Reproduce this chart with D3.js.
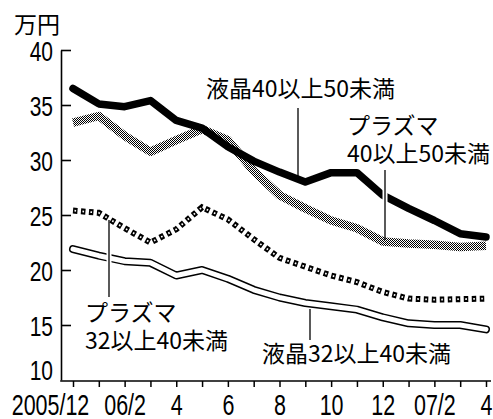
<!DOCTYPE html>
<html>
<head>
<meta charset="utf-8">
<script src="https://cdn.jsdelivr.net/npm/d3@7"></script>
<style>
  html, body { margin: 0; padding: 0; background: #fff; }
  svg { display: block; }
</style>
</head>
<body>
<svg id="chart" width="493" height="419"></svg>
<script>
// Monthly average prices (万円), 2005/12 – 2007/4
const months = ["2005/12","06/1","06/2","06/3","06/4","06/5","06/6","06/7","06/8",
                "06/9","06/10","06/11","06/12","07/1","07/2","07/3","07/4"];
const tickLabels = ["2005/12","","06/2","","4","","6","","8","","10","","12","","07/2","","4"];
const yTicks = [10, 15, 20, 25, 30, 35, 40];

const lcd40to50 = [36.5, 35.1, 34.85, 35.4, 33.6, 32.9, 31.2, 29.9, 28.9, 28.0, 28.85, 28.85, 26.8, 25.6, 24.5, 23.3, 23.0];
const pdp40to50 = [33.4, 34.0, 32.2, 30.75, 31.8, 32.8, 31.8, 29.0, 26.8, 25.6, 24.5, 23.8, 22.6, 22.4, 22.3, 22.1, 22.2];
const pdp32to40 = [25.4, 25.2, 23.8, 22.5, 23.7, 25.7, 24.6, 22.8, 21.1, 20.3, 19.5, 18.9, 18.0, 17.4, 17.3, 17.35, 17.4];
const lcd32to40 = [21.9, 21.3, 20.8, 20.65, 19.5, 20.0, 19.2, 18.2, 17.5, 17.0, 16.7, 16.4, 15.7, 15.15, 15.0, 15.0, 14.6];

const unitLabel = "万円";
const labelLcd40 = ["液晶40以上50未満"];
const labelPdp40 = ["プラズマ", "40以上50未満"];
const labelPdp32 = ["プラズマ", "32以上40未満"];
const labelLcd32 = ["液晶32以上40未満"];

const svg = d3.select("#chart");
const x = d3.scaleLinear().domain([0, months.length - 1]).range([73, 486]);
const y = d3.scaleLinear().domain([10, 40]).range([380, 50]);

const axisFont = "'Liberation Sans', Arial, sans-serif";
const cjkFont = "'Noto Sans CJK JP', 'Noto Sans CJK SC', sans-serif";

// halftone fill for the grey band
const defs = svg.append("defs");
const pat = defs.append("pattern").attr("id", "dither")
  .attr("width", 2).attr("height", 2).attr("patternUnits", "userSpaceOnUse");
pat.append("rect").attr("width", 2).attr("height", 2).attr("fill", "#fff");
pat.append("rect").attr("width", 1).attr("height", 1).attr("fill", "#000");
pat.append("rect").attr("x", 1).attr("y", 1).attr("width", 1).attr("height", 1).attr("fill", "#000");

// condensed digits: squeeze each label to 74% of its natural width
function condense(sel, k) {
  sel.each(function () {
    const w = this.getComputedTextLength();
    if (w > 0) {
      d3.select(this).attr("textLength", w * k).attr("lengthAdjust", "spacingAndGlyphs");
    }
  });
}

// y axis
const gy = svg.append("g").attr("transform", "translate(61,0)")
  .call(d3.axisLeft(y).tickValues(yTicks).tickSize(-10).tickSizeOuter(0).tickFormat(d3.format("d")));
gy.attr("font-family", null).attr("font-size", null);
gy.select(".domain").attr("stroke", "#000").attr("stroke-width", 1.6);
gy.selectAll(".tick line").attr("stroke", "#000").attr("stroke-width", 1.6)
  .filter(d => d === 10).remove();
gy.selectAll(".tick text")
  .attr("x", -8)
  .attr("dy", d => d === 10 ? "-0.02em" : "0.36em")
  .attr("text-anchor", "end")
  .style("font-family", axisFont).style("font-size", "28px").attr("fill", "#000")
  .call(condense, 0.75);

// x axis
const gx = svg.append("g").attr("transform", "translate(0,381)")
  .call(d3.axisBottom(x).tickValues(d3.range(months.length))
    .tickFormat((d, i) => tickLabels[i]).tickSize(6).tickSizeOuter(0));
gx.attr("font-family", null).attr("font-size", null);
gx.select(".domain").remove();
gx.selectAll(".tick line").attr("stroke", "#000").attr("stroke-width", 1.5);
gx.selectAll(".tick text")
  .attr("y", 34).attr("dy", null)
  .attr("x", (d, i) => i === 0 ? -23 : 0)
  .style("font-family", axisFont).style("font-size", "29px").attr("fill", "#000")
  .call(condense, 0.74);
gx.append("line").attr("x1", 60.2).attr("x2", 491).attr("y1", 0).attr("y2", 0)
  .attr("stroke", "#000").attr("stroke-width", 1.6);

const line = d3.line().x((d, i) => x(i)).y(d => y(d));

// 液晶32以上40未満: outlined white band
svg.append("path").datum(lcd32to40).attr("d", line)
  .attr("fill", "none").attr("stroke", "#000").attr("stroke-width", 8)
  .attr("stroke-linecap", "round").attr("stroke-linejoin", "round");
svg.append("path").datum(lcd32to40).attr("d", line)
  .attr("fill", "none").attr("stroke", "#fff").attr("stroke-width", 5)
  .attr("stroke-linecap", "round").attr("stroke-linejoin", "round");

// プラズマ32以上40未満: chain of small hollow marks
svg.append("path").datum(pdp32to40).attr("d", line)
  .attr("fill", "none").attr("stroke", "#000").attr("stroke-width", 6)
  .attr("stroke-dasharray", "4.5 3.5");
svg.append("path").datum(pdp32to40).attr("d", line)
  .attr("fill", "none").attr("stroke", "#fff").attr("stroke-width", 1.8)
  .attr("stroke-dasharray", "0 1.5 1.6 4.9");

// プラズマ40以上50未満: halftone grey band
svg.append("path").datum(pdp40to50).attr("d", line)
  .attr("fill", "none").attr("stroke", "url(#dither)").attr("stroke-width", 8.5)
  .attr("stroke-linejoin", "round");

// 液晶40以上50未満: heavy black line
svg.append("path").datum(lcd40to50).attr("d", line)
  .attr("fill", "none").attr("stroke", "#000").attr("stroke-width", 7.5)
  .attr("stroke-linecap", "round").attr("stroke-linejoin", "round");

// leader lines from labels to their series
const leaders = [
  { x: 298, y1: 108, y2: 176, halo: false },
  { x: 385, y1: 170, y2: 240, halo: true },
  { x: 109, y1: 220, y2: 297, halo: true },
  { x: 310, y1: 309, y2: 340, halo: false }
];
const lg = svg.append("g");
leaders.filter(d => d.halo).forEach(d => {
  lg.append("line").attr("x1", d.x).attr("x2", d.x).attr("y1", d.y1 + 4).attr("y2", d.y2 - 4)
    .attr("stroke", "#fff").attr("stroke-width", 5);
});
leaders.forEach(d => {
  lg.append("line").attr("x1", d.x).attr("x2", d.x).attr("y1", d.y1).attr("y2", d.y2)
    .attr("stroke", "#000").attr("stroke-width", 1.3);
});

// text labels, one text element per line
function addLabel(lines, lx, ly, lh) {
  lines.forEach((s, i) => {
    svg.append("text").attr("x", lx).attr("y", ly + i * lh)
      .style("font-family", cjkFont).style("font-size", "23px").attr("fill", "#000")
      .text(s);
  });
}
addLabel([unitLabel], 14, 33, 0);
addLabel(labelLcd40, 206, 97, 0);
addLabel(labelPdp40, 347, 134, 28);
addLabel(labelPdp32, 85, 321, 28);
addLabel(labelLcd32, 262, 362, 0);
</script>
</body>
</html>
